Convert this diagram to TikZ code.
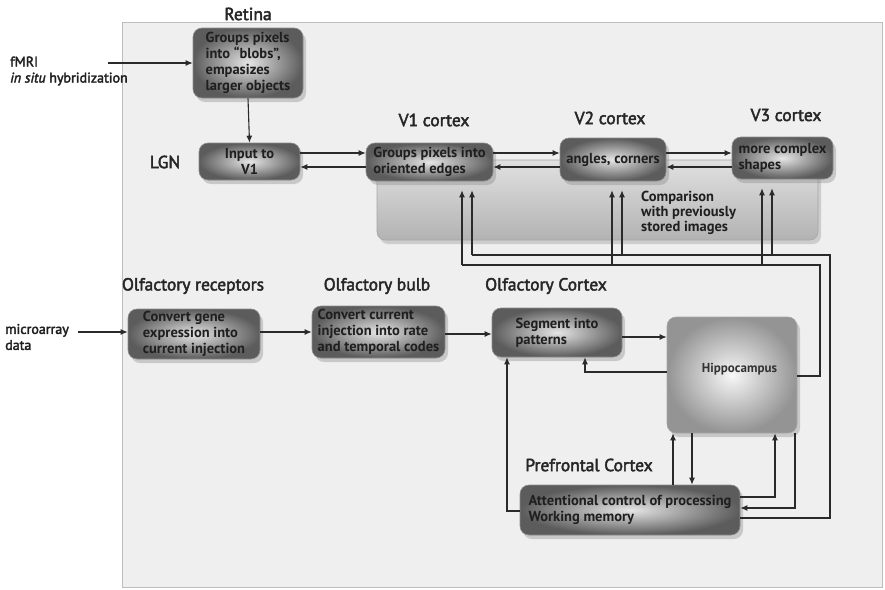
\documentclass[tikz,border=0pt]{standalone}
\usepackage{fontspec}
\setmainfont{PT Sans}
\newfontfamily\heavy[FakeBold=2.5]{PT Sans}
\usetikzlibrary{shadows,arrows.meta}
\definecolor{framefill}{HTML}{EFEFEF}
\definecolor{frameline}{HTML}{BDBDBD}
\definecolor{wirecol}{HTML}{2A2A2A}
\begin{document}
\begin{tikzpicture}[x=1pt,y=-1pt,
  >={Latex[length=7pt,width=6pt]},
  wire/.style={draw=wirecol, line width=1.1pt},
  box/.style={rounded corners=9pt, inner color=black!10, outer color=black!64,
    draw=black!45, line width=0.6pt,
    drop shadow={shadow xshift=3pt, shadow yshift=-4pt, opacity=0.35},
    font=\fontsize{14.5}{16}\selectfont\bfseries, align=left, inner sep=2pt, text=black!88},
  cmpbox/.style={rounded corners=8pt, top color=black!12, bottom color=black!30,
    draw=black!35, line width=0.6pt,
    drop shadow={shadow xshift=3pt, shadow yshift=-4pt, opacity=0.3}},
  hbox/.style={rounded corners=9pt, inner color=black!3, outer color=black!42,
    draw=black!35, line width=0.6pt,
    drop shadow={shadow xshift=3pt, shadow yshift=-4pt, opacity=0.35},
    font=\fontsize{13}{15}\selectfont\bfseries, text=black!80},
  title/.style={font=\fontsize{17.5}{19}\heavy, text=black!85},
  side/.style={font=\fontsize{14}{16}\heavy, align=left, text=black!88, inner sep=0pt},
]
\useasboundingbox (0,0) rectangle (885,589);
\fill[white] (0,0) rectangle (885,589);
\draw[fill=framefill, draw=frameline, line width=0.8pt] (122,22) rectangle (882,587);

% shared comparison panel behind the visual cortex boxes
\node[cmpbox, minimum width=441pt, minimum height=80pt] (cmp) at (597.5,200) {};
\node[side, anchor=west, font=\fontsize{14.5}{15}\selectfont\bfseries] (cmptext) at (641,213)
  {Comparison\\with previously\\stored images};

% visual pathway
\node[box, minimum width=110pt, minimum height=70pt] (retina) at (248,63)
  {Groups pixels\\into “blobs”,\\empasizes\\larger objects};
\node[box, align=center, minimum width=101pt, minimum height=37pt] (lgn) at (249.5,161.5) {Input to\\V1};
\node[box, minimum width=127pt, minimum height=38pt] (v1) at (429.5,162) {Groups pixels into\\oriented edges};
\node[box, minimum width=106pt, minimum height=43pt] (v2) at (613,159.5) {angles, corners};
\node[box, minimum width=101pt, minimum height=42pt] (v3) at (782.5,158) {more complex\\shapes};

% olfactory pathway
\node[box, minimum width=132pt, minimum height=50pt] (recep) at (194,334)
  {Convert gene\\expression into\\current injection};
\node[box, minimum width=133pt, minimum height=52pt] (bulb) at (378.5,332)
  {Convert current\\injection into rate\\and temporal codes};
\node[box, minimum width=130pt, minimum height=49pt] (seg) at (557,332.5) {Segment into\\patterns};
\node[hbox, minimum width=130pt, minimum height=116pt, text depth=14pt, text width=90pt, align=right] (hippo) at (732,375) {Hippocampus};
\node[box, minimum width=220pt, minimum height=50pt] (pfc) at (630,510)
  {Attentional control of processing\\Working memory};

% titles
\node[title] (tretina) at (248,14) {Retina};
\node[title] (tlgn) at (165,162) {LGN};
\node[title] (tv1) at (434,120) {V1 cortex};
\node[title] (tv2) at (610,118) {V2 cortex};
\node[title] (tv3) at (786,115) {V3 cortex};
\node[title] (trecep) at (193,286) {Olfactory receptors};
\node[title] (tbulb) at (377,286) {Olfactory bulb};
\node[title] (tolf) at (546,286) {Olfactory Cortex};
\node[title] (tpfc) at (589,465) {Prefrontal Cortex};

% data sources
\node[side, anchor=west] (fmri) at (10,71) {fMRI\\\textit{in situ} hybridization};
\node[side, anchor=west] (micro) at (5,337) {microarray\\data};

% routing coordinates
\coordinate (fmriend) at (108,63);
\coordinate (microend) at (78,332);
\coordinate (rowA) at (0,153);
\coordinate (rowB) at (0,167);
\coordinate (rowO) at (0,334);
\coordinate (rowS) at (0,337);
\coordinate (rowHS) at (0,372);
\coordinate (rowHV) at (0,376);
\coordinate (busH) at (0,265);
\coordinate (busP) at (0,255);
\coordinate (rowP497) at (0,497);
\coordinate (rowP508) at (0,508);
\coordinate (rowP511) at (0,511);
\coordinate (rowP518) at (0,518);
\coordinate (x462) at (462,0);
\coordinate (x472) at (472,0);
\coordinate (x507) at (507,0);
\coordinate (x585) at (585,0);
\coordinate (x612) at (612,0);
\coordinate (x622) at (622,0);
\coordinate (x673) at (673,0);
\coordinate (x692) at (692,0);
\coordinate (x762) at (762,0);
\coordinate (x772) at (772,0);
\coordinate (x775) at (775,0);
\coordinate (x795) at (795,0);
\coordinate (x820) at (820,0);
\coordinate (x830) at (830,0);

% visual connections
\draw[wire,->] (fmriend) -- (retina.west |- fmriend);
\draw[wire,->] (retina.south) -- (lgn.north);
\draw[wire,->] (lgn.east |- rowA) -- (v1.west |- rowA);
\draw[wire,->] (v1.west |- rowB) -- (lgn.east |- rowB);
\draw[wire,->] (v1.east |- rowA) -- (v2.west |- rowA);
\draw[wire,->] (v2.west |- rowB) -- (v1.east |- rowB);
\draw[wire,->] (v2.east |- rowA) -- (v3.west |- rowA);
\draw[wire,->] (v3.west |- rowB) -- (v2.east |- rowB);

% olfactory connections
\draw[wire,->] (microend) -- (recep.west |- microend);
\draw[wire,->] (recep.east |- microend) -- (bulb.west |- microend);
\draw[wire,->] (bulb.east |- rowO) -- (seg.west |- rowO);
\draw[wire,->] (seg.east |- rowS) -- (hippo.west |- rowS);
\draw[wire,->] (hippo.west |- rowHS) -| (x585 |- seg.south);
\draw[wire,->] (pfc.west |- rowP511) -| (x507 |- seg.south);

% hippocampus <-> prefrontal
\draw[wire,->] (x673 |- pfc.north) -- (x673 |- hippo.south);
\draw[wire,->] (x692 |- hippo.south) -- (x692 |- pfc.north);
\draw[wire,->] (pfc.east |- rowP497) -| (x775 |- hippo.south);
\draw[wire,->] (x795 |- hippo.south) |- (pfc.east |- rowP508);

% feedback from hippocampus to visual cortex
\draw[wire] (hippo.east |- rowHV) -| (x820 |- busH) -- (x462 |- busH);
\draw[wire,->,shorten >=9pt] (x462 |- busH) -- (x462 |- v1.south);
\draw[wire,->,shorten >=9pt] (x612 |- busH) -- (x612 |- v2.south);
\draw[wire,->,shorten >=9pt] (x762 |- busH) -- (x762 |- v3.south);

% feedback from prefrontal cortex to visual cortex
\draw[wire] (pfc.east |- rowP518) -| (x830 |- busP) -- (x472 |- busP);
\draw[wire,->,shorten >=9pt] (x472 |- busP) -- (x472 |- v1.south);
\draw[wire,->,shorten >=9pt] (x622 |- busP) -- (x622 |- v2.south);
\draw[wire,->,shorten >=9pt] (x772 |- busP) -- (x772 |- v3.south);
\end{tikzpicture}
\end{document}
